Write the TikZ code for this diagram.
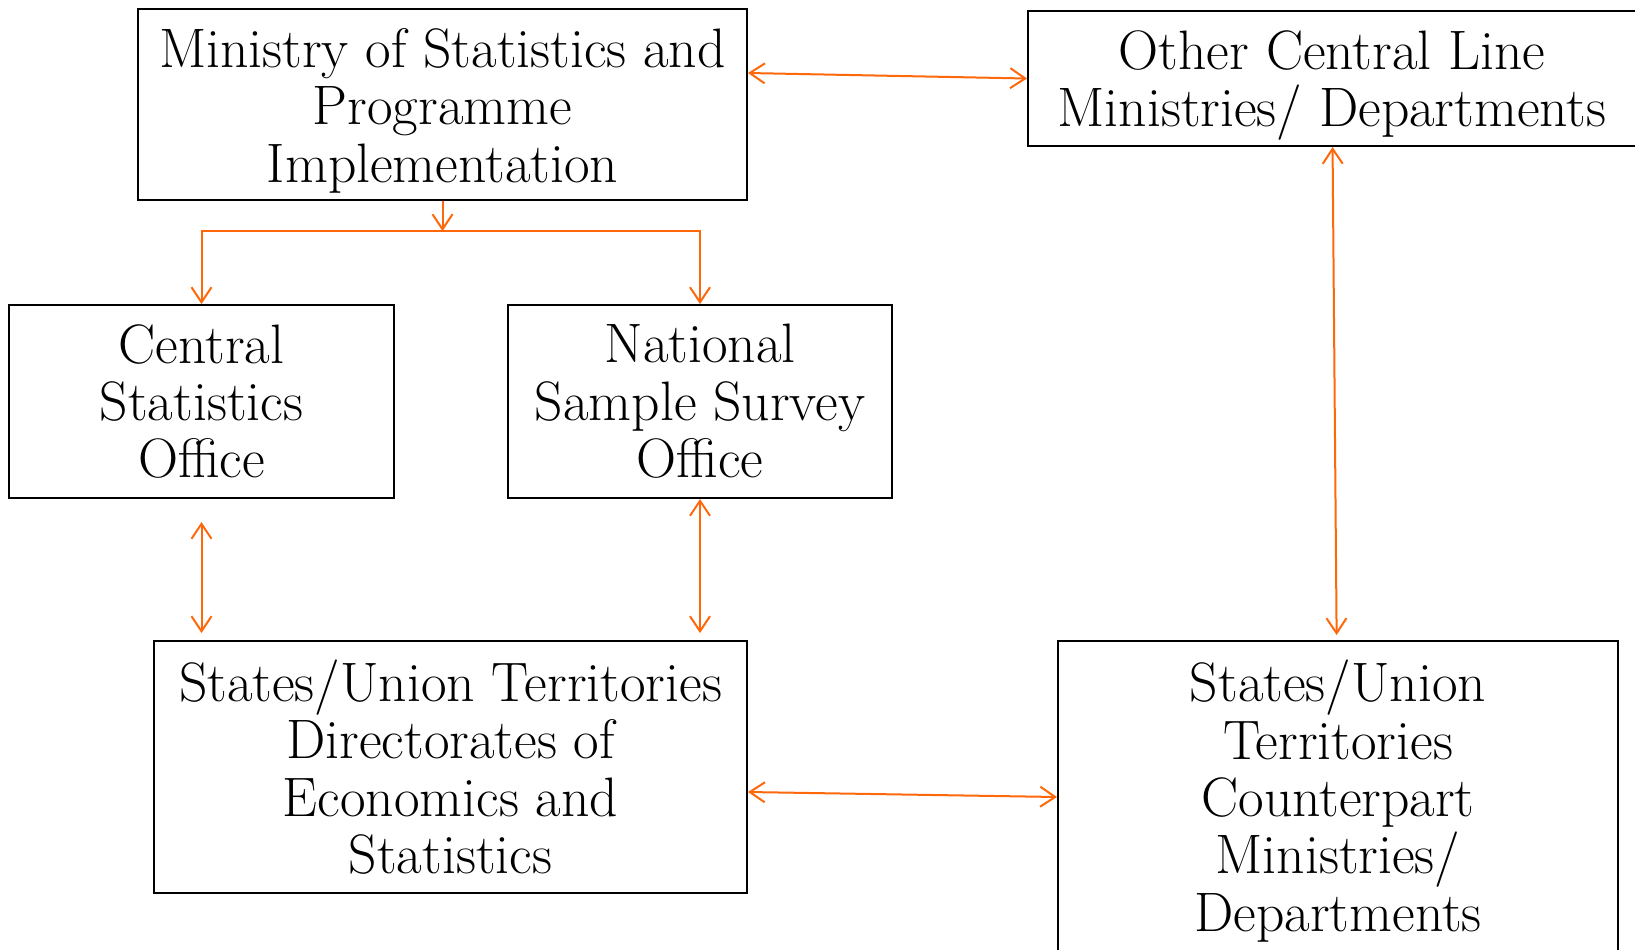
\documentclass[tikz,border=0pt]{standalone}
\usetikzlibrary{arrows.meta}
\definecolor{linkor}{RGB}{255,104,10}

\begin{document}
\begin{tikzpicture}
		[x=0.5pt,y=-0.5pt,>={Straight Barb[length=7.5pt,width=10pt]},
		box/.style={draw,line width=1pt,align=center,inner sep=0pt,font=\fontsize{27.8pt}{28.7pt}\selectfont},
		link/.style={draw=linkor,line width=1pt}]
		\clip (0,0) rectangle (1635,949);
		\node[box,minimum width=304.5pt,minimum height=95.5pt,text height=83pt] (n1) at (442.5,104.5) {Ministry of Statistics and\\Programme\\Implementation};
		\node[box,minimum width=304pt,minimum height=67.5pt,text height=55pt] (n2) at (1332,78.5) {Other Central Line\\Ministries/ Departments};
		\node[box,minimum width=192.5pt,minimum height=96.5pt] (n3) at (201.5,401.5) {Central\\Statistics\\Office};
		\node[box,minimum width=192pt,minimum height=96.5pt] (n4) at (700,401.5) {National\\Sample Survey\\Office};
		\node[box,minimum width=296.5pt,minimum height=126pt] (n5) at (450.5,767) {States/Union Territories\\Directorates of\\Economics and\\Statistics};
		\node[box,minimum width=280pt,minimum height=160pt] (n6) at (1338,801) {States/Union\\Territories\\Counterpart\\Ministries/\\Departments};
		\coordinate (j) at (442.5,231);

		\draw[link][->] (n1) -- (j);
		\draw[link][->] (j) -| (n3);
		\draw[link][->] (j) -| (n4);
		\draw[link][<->] ([yshift=15.75pt]n1.east) -- (n2.west);
		\draw[link][<->,shorten <=11.5pt,shorten >=3.5pt] (n3.south) -- (n3.south |- n5.north);
		\draw[link][<->,shorten >=3.5pt] (n4.south) -- (n4.south |- n5.north);
		\draw[link][<->,shorten >=2.5pt] (n2) -- (n6);
		\draw[link][<->] ([yshift=-12.5pt]n5.east) -- ([yshift=2pt]n6.west);

	\end{tikzpicture}
\end{document}
